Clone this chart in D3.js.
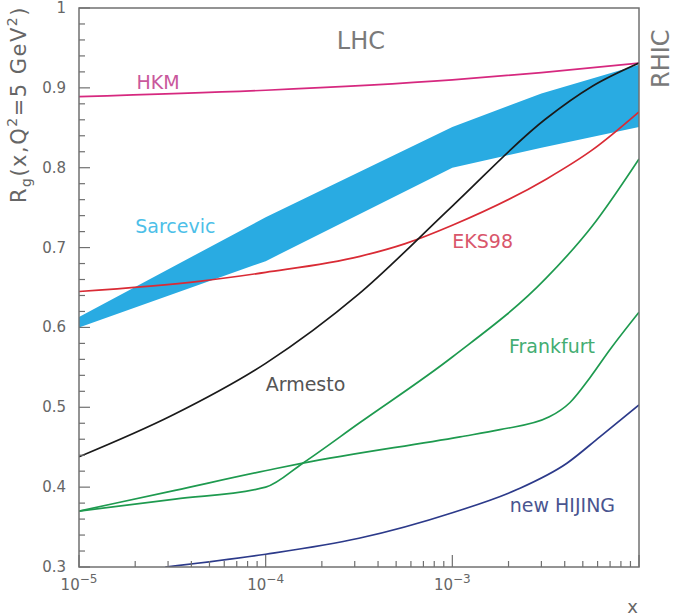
<!DOCTYPE html>
<html>
<head>
<meta charset="utf-8">
<script src="https://cdn.jsdelivr.net/npm/d3@7/dist/d3.min.js"></script>
<style>
body { margin: 0; background: #fff; }
text { font-family: "DejaVu Sans", sans-serif; }
</style>
</head>
<body>
<div id="chart"></div>
<script>
// values: R_g(x, Q^2 = 5 GeV^2)
var hkmX = [1e-5, 1e-4, 1e-3, 3e-3, 1e-2];
var hkmY = [0.889, 0.897, 0.910, 0.919, 0.931];

var sarcevicX = [1e-5, 1e-4, 1e-3, 3e-3, 1e-2];
var sarcevicHigh = [0.613, 0.738, 0.851, 0.893, 0.929];
var sarcevicLow = [0.600, 0.683, 0.800, 0.825, 0.851];

var eksX = [1e-5, 4.5e-5, 1e-4, 3.2e-4, 5.6e-4, 1e-3, 3.2e-3, 5.6e-3, 1e-2];
var eksY = [0.645, 0.658, 0.669, 0.689, 0.705, 0.728, 0.786, 0.822, 0.870];

var armestoX = [1e-5, 3.16e-5, 1e-4, 3.16e-4, 1e-3, 3.16e-3, 5.62e-3, 1e-2];
var armestoY = [0.438, 0.490, 0.555, 0.642, 0.752, 0.861, 0.902, 0.931];

var frank1X = [1e-5, 3.27e-5, 1e-4, 1.58e-4, 3.16e-4, 1e-3, 3.16e-3, 5.62e-3, 1e-2];
var frank1Y = [0.370, 0.385, 0.400, 0.430, 0.480, 0.563, 0.661, 0.727, 0.811];

var frank2X = [1e-5, 3.27e-5, 1.12e-4, 1.58e-4, 1.1e-3, 1.8e-3, 3.31e-3, 4.27e-3, 5.46e-3, 6.98e-3, 1e-2];
var frank2Y = [0.370, 0.396, 0.423, 0.430, 0.463, 0.472, 0.488, 0.506, 0.537, 0.572, 0.619];

var hijingX = [2.9e-5, 1e-4, 3.16e-4, 1e-3, 2.22e-3, 4.11e-3, 6.17e-3, 1e-2];
var hijingY = [0.300, 0.316, 0.336, 0.368, 0.397, 0.430, 0.463, 0.503];

var xDomain = [1e-5, 1e-2];
var yDomain = [0.3, 1];
var xDecades = [1e-5, 1e-4, 1e-3];
var xExponents = ['\u22125', '\u22124', '\u22123'];

var width = 675;
var height = 616;
var plotLeft = 79, plotRight = 639, plotTop = 8, plotBottom = 567;
var axisColor = '#707070';

var x = d3.scaleLog().domain(xDomain).range([plotLeft, plotRight]);
var y = d3.scaleLinear().domain(yDomain).range([plotBottom, plotTop]);

window.onload = function() {
    render();
};

function render() {
    var svg = d3.select('#chart').append('svg')
        .attr('width', width)
        .attr('height', height);

    svg.append('defs').append('clipPath')
        .attr('id', 'plot-clip')
        .append('rect')
        .attr('x', plotLeft).attr('y', plotTop)
        .attr('width', plotRight - plotLeft).attr('height', plotBottom - plotTop);

    var plot = svg.append('g').attr('clip-path', 'url(#plot-clip)');

    // Sarcevic band
    var band = d3.area()
        .x(function(d) { return x(d[0]); })
        .y0(function(d) { return y(d[1]); })
        .y1(function(d) { return y(d[2]); });
    plot.append('path')
        .datum(d3.zip(sarcevicX, sarcevicLow, sarcevicHigh))
        .attr('d', band)
        .attr('fill', '#29abe2');

    drawCurve(plot, hkmX, hkmY, '#d6287f');
    drawCurve(plot, eksX, eksY, '#d92b35');
    drawCurve(plot, armestoX, armestoY, '#1a1a1a');
    drawCurve(plot, frank1X, frank1Y, '#1e9a4f');
    drawCurve(plot, frank2X, frank2Y, '#1e9a4f');
    drawCurve(plot, hijingX, hijingY, '#2c3a8a');

    drawAxes(svg);

    // curve labels
    addLabel(svg, 'HKM', 2.03e-5, 0.898, '#c9589c');
    addLabel(svg, 'Sarcevic', 2.0e-5, 0.718, '#4dbfe8');
    addLabel(svg, 'EKS98', 1e-3, 0.699, '#d9566b');
    addLabel(svg, 'Armesto', 1e-4, 0.520, '#555555');
    addLabel(svg, 'Frankfurt', 2.01e-3, 0.568, '#43ad72');
    addLabel(svg, 'new HIJING', 2.03e-3, 0.369, '#4a5590');

    svg.append('text')
        .attr('x', x(3.24e-4))
        .attr('y', y(0.949))
        .style('text-anchor', 'middle')
        .style('font-size', '24px')
        .style('fill', '#7a7a7a')
        .text('LHC');

    svg.append('text')
        .attr('transform', 'translate(669,88) rotate(-90)')
        .style('font-size', '24px')
        .style('fill', '#7a7a7a')
        .text('RHIC');
}

function drawCurve(g, xs, ys, color) {
    var line = d3.line()
        .x(function(d) { return x(d[0]); })
        .y(function(d) { return y(d[1]); })
        .curve(d3.curveMonotoneX);
    g.append('path')
        .datum(d3.zip(xs, ys))
        .attr('d', line)
        .attr('fill', 'none')
        .attr('stroke', color)
        .attr('stroke-width', 1.7);
}

function addLabel(svg, label, xv, yv, color) {
    svg.append('text')
        .attr('x', x(xv))
        .attr('y', y(yv))
        .style('font-size', '19px')
        .style('fill', color)
        .text(label);
}

function drawAxes(svg) {
    var g = svg.append('g');

    g.append('rect')
        .attr('x', plotLeft).attr('y', plotTop)
        .attr('width', plotRight - plotLeft).attr('height', plotBottom - plotTop)
        .attr('fill', 'none')
        .attr('stroke', axisColor)
        .attr('stroke-width', 1.5);

    // y ticks, inward, minor every 0.02
    y.ticks(35).forEach(function(v) {
        var major = Math.abs(v * 10 - Math.round(v * 10)) < 1e-6;
        g.append('line')
            .attr('x1', plotLeft).attr('x2', plotLeft + (major ? 11 : 6))
            .attr('y1', y(v)).attr('y2', y(v))
            .attr('stroke', axisColor).attr('stroke-width', 1.2);
        if (major) {
            g.append('text')
                .attr('x', 66)
                .attr('y', y(v) + 5)
                .style('text-anchor', 'end')
                .style('font-size', '15px')
                .style('fill', '#666')
                .text(v === 1 ? '1' : v.toFixed(1));
        }
    });

    // x ticks, inward
    x.ticks().forEach(function(v) {
        var e = Math.log10(v);
        var major = Math.abs(e - Math.round(e)) < 1e-6;
        g.append('line')
            .attr('x1', x(v)).attr('x2', x(v))
            .attr('y1', plotBottom).attr('y2', plotBottom - (major ? 12 : 6))
            .attr('stroke', axisColor).attr('stroke-width', 1.2);
    });

    xDecades.forEach(function(v, i) {
        var t = g.append('text')
            .attr('x', x(v))
            .attr('y', 590)
            .style('text-anchor', 'middle')
            .style('font-size', '15px')
            .style('fill', '#666');
        t.append('tspan').text('10');
        t.append('tspan')
            .attr('dy', -7)
            .style('font-size', '12px')
            .text(xExponents[i]);
    });

    g.append('text')
        .attr('x', 638)
        .attr('y', 613)
        .style('text-anchor', 'end')
        .style('font-size', '18px')
        .style('fill', '#666')
        .text('x');

    // y axis title
    var yt = g.append('text')
        .attr('transform', 'translate(26,6) rotate(-90)')
        .style('text-anchor', 'end')
        .style('font-size', '21px')
        .style('letter-spacing', '1.5px')
        .style('fill', '#666');
    yt.append('tspan').text('R');
    yt.append('tspan').attr('dy', 5).style('font-size', '14px').text('g');
    yt.append('tspan').attr('dy', -5).text('(x,Q');
    yt.append('tspan').attr('dy', -9).style('font-size', '14px').text('2');
    yt.append('tspan').attr('dy', 9).text('=5 GeV');
    yt.append('tspan').attr('dy', -9).style('font-size', '14px').text('2');
    yt.append('tspan').attr('dy', 9).text(')');
}
</script>
</body>
</html>
